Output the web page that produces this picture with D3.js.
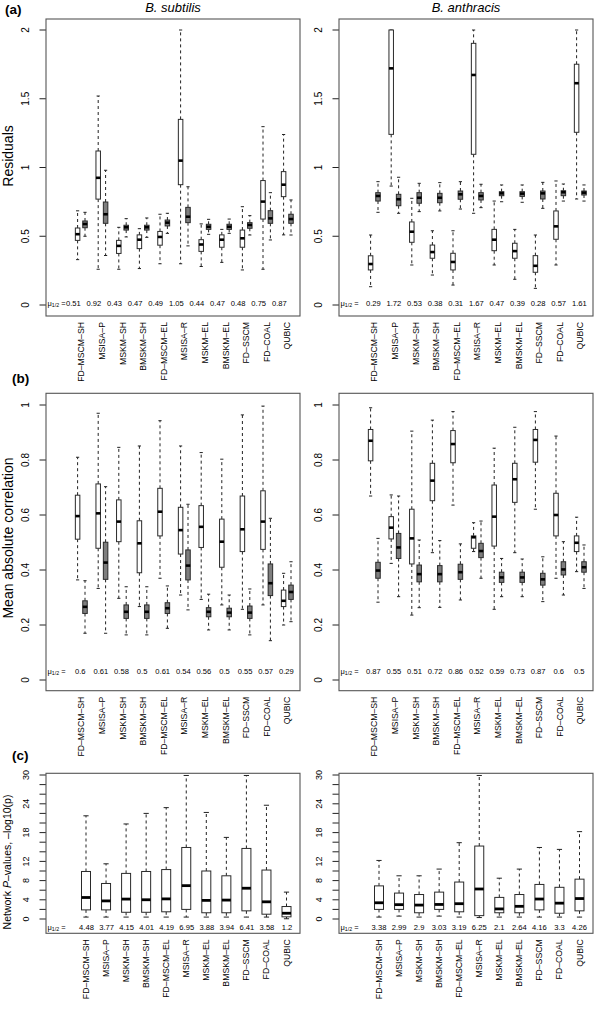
<!DOCTYPE html>
<html><head><meta charset="utf-8">
<script src="https://cdn.jsdelivr.net/npm/d3@7"></script>
<style>body{margin:0;background:#fff} svg{display:block} text{font-family:"Liberation Sans",Arial,Helvetica,sans-serif;fill:#000}</style>
</head><body><svg id="c" width="600" height="1013"></svg>
<script>
// ---------- DATA ----------
const methods = ["FD–MSCM–SH","MSISA–P","MSKM–SH","BMSKM–SH","FD–MSCM–EL","MSISA–R","MSKM–EL","BMSKM–EL","FD–SSCM","FD–COAL","QUBIC"];
const organisms = ["B. subtilis","B. anthracis"];
// each box: [lower whisker, Q1, median, Q3, upper whisker]
// (a) Residuals, white = biclusters, gray = random
const resBsWhite = [[0.33,0.47,0.515,0.56,0.685],[0.26,0.77,0.925,1.12,1.52],[0.26,0.375,0.43,0.47,0.565],[0.265,0.41,0.475,0.51,0.555],[0.30,0.435,0.495,0.535,0.66],[0.30,0.875,1.05,1.35,2.0],[0.28,0.39,0.44,0.475,0.59],[0.31,0.42,0.475,0.51,0.55],[0.255,0.42,0.485,0.545,0.715],[0.26,0.625,0.752,0.905,1.297],[0.51,0.788,0.875,0.97,1.24]];
const resBsGray  = [[0.50,0.562,0.589,0.611,0.674],[0.36,0.594,0.66,0.749,0.98],[0.495,0.545,0.565,0.58,0.628],[0.492,0.545,0.565,0.58,0.633],[0.521,0.575,0.599,0.618,0.667],[0.43,0.599,0.642,0.71,0.86],[0.514,0.55,0.569,0.587,0.623],[0.521,0.55,0.569,0.587,0.625],[0.509,0.558,0.582,0.599,0.65],[0.473,0.594,0.63,0.686,0.817],[0.509,0.594,0.625,0.66,0.764]];
const resBaWhite = [[0.133,0.255,0.298,0.358,0.509],[0.865,1.241,1.721,2.0,2.0],[0.291,0.456,0.533,0.604,0.776],[0.218,0.34,0.385,0.436,0.54],[0.145,0.255,0.313,0.376,0.54],[0.667,1.096,1.673,1.903,2.0],[0.291,0.395,0.475,0.55,0.756],[0.187,0.34,0.392,0.449,0.55],[0.121,0.238,0.285,0.359,0.509],[0.291,0.478,0.572,0.684,0.902],[0.771,1.256,1.613,1.751,2.0]];
const resBaGray  = [[0.674,0.756,0.793,0.817,0.897],[0.667,0.722,0.769,0.805,0.929],[0.679,0.74,0.78,0.817,0.885],[0.684,0.744,0.78,0.812,0.89],[0.698,0.769,0.805,0.829,0.897],[0.708,0.764,0.793,0.817,0.878],[0.751,0.795,0.812,0.824,0.873],[0.747,0.79,0.81,0.824,0.873],[0.703,0.771,0.812,0.829,0.892],[0.756,0.795,0.82,0.831,0.88],[0.756,0.80,0.817,0.829,0.873]];
// (b) Mean absolute correlation
const corBsWhite = [[0.364,0.512,0.596,0.672,0.81],[0.333,0.479,0.606,0.713,0.97],[0.297,0.503,0.576,0.655,0.846],[0.267,0.39,0.497,0.579,0.851],[0.37,0.524,0.612,0.697,0.943],[0.309,0.458,0.545,0.628,0.851],[0.293,0.482,0.557,0.634,0.827],[0.273,0.41,0.503,0.585,0.803],[0.257,0.467,0.548,0.669,0.964],[0.273,0.475,0.576,0.688,0.996],[0.20,0.267,0.288,0.327,0.388]];
const corBsGray  = [[0.17,0.242,0.266,0.288,0.361],[0.17,0.366,0.427,0.501,0.703],[0.164,0.224,0.248,0.273,0.339],[0.164,0.224,0.248,0.273,0.339],[0.188,0.242,0.261,0.281,0.342],[0.255,0.364,0.416,0.473,0.639],[0.182,0.23,0.248,0.263,0.312],[0.182,0.23,0.245,0.261,0.309],[0.164,0.224,0.245,0.269,0.331],[0.143,0.307,0.352,0.422,0.588],[0.212,0.293,0.32,0.345,0.43]];
const corBaWhite = [[0.669,0.797,0.87,0.911,0.99],[0.424,0.513,0.554,0.594,0.673],[0.236,0.422,0.515,0.621,0.905],[0.463,0.652,0.725,0.788,0.945],[0.636,0.79,0.858,0.907,0.976],[0.467,0.479,0.519,0.524,0.572],[0.257,0.487,0.594,0.709,0.843],[0.463,0.646,0.73,0.788,0.919],[0.621,0.792,0.873,0.911,0.976],[0.37,0.524,0.60,0.679,0.887],[0.394,0.467,0.499,0.524,0.592]];
const corBaGray  = [[0.283,0.37,0.398,0.428,0.515],[0.303,0.442,0.482,0.533,0.669],[0.263,0.357,0.385,0.418,0.509],[0.264,0.357,0.385,0.416,0.507],[0.291,0.366,0.392,0.421,0.495],[0.37,0.445,0.469,0.497,0.578],[0.303,0.355,0.373,0.392,0.442],[0.303,0.355,0.373,0.392,0.44],[0.285,0.345,0.366,0.388,0.448],[0.309,0.382,0.402,0.43,0.503],[0.333,0.392,0.41,0.43,0.491]];
// (c) Network P-values, -log10(p)
const netBs = [[0.4,1.9,4.48,9.9,21.5],[0.4,1.9,3.77,7.4,11.5],[0.4,1.4,4.15,9.5,19.8],[0.4,1.4,4.01,9.9,22.0],[0.4,1.5,4.19,10.3,23.2],[0.4,2.0,6.95,14.9,29.9],[0.4,1.3,3.88,10.0,22.2],[0.4,1.3,3.94,9.0,17.0],[0.4,1.7,6.41,14.7,29.9],[0.4,1.0,3.58,10.2,23.7],[0.05,0.45,1.2,2.6,5.6]];
const netBa = [[0.4,2.0,3.38,6.9,12.2],[0.6,2.0,2.99,5.4,9.0],[0.4,1.3,2.9,5.1,9.0],[0.6,2.0,3.03,5.6,10.4],[0.4,1.5,3.19,7.7,15.9],[0.3,0.7,6.25,15.2,29.9],[0.4,1.3,2.1,4.5,8.5],[0.4,1.3,2.64,5.1,10.4],[0.4,1.9,4.16,7.2,14.9],[0.4,1.2,3.3,6.6,14.5],[0.4,1.7,4.26,8.3,18.2]];
// printed medians (mu_1/2)
const medResBs = ["0.51","0.92","0.43","0.47","0.49","1.05","0.44","0.47","0.48","0.75","0.87"];
const medResBa = ["0.29","1.72","0.53","0.38","0.31","1.67","0.47","0.39","0.28","0.57","1.61"];
const medCorBs = ["0.6","0.61","0.58","0.5","0.61","0.54","0.56","0.5","0.55","0.57","0.29"];
const medCorBa = ["0.87","0.55","0.51","0.72","0.86","0.52","0.59","0.73","0.87","0.6","0.5"];
const medNetBs = ["4.48","3.77","4.15","4.01","4.19","6.95","3.88","3.94","6.41","3.58","1.2"];
const medNetBa = ["3.38","2.99","2.9","3.03","3.19","6.25","2.1","2.64","4.16","3.3","4.26"];
// tick values
const ticksRes = [0,0.5,1,1.5,2];
const ticksCor = [0,0.2,0.4,0.6,0.8,1];
const ticksNetMarks = [0,2,4,6,8,10,12,14,16,18,20,22,24,26,28,30];
const ticksNetLabels = [0,4,8,12,18,24,30];

// ---------- LAYOUT ----------
const svg = d3.select("#c");
const cols = [{left:46,right:300},{left:339,right:593}];

const rows = [
  {letter:"(a)", letterX:5, letterY:14, top:19, bottom:316, domain:[0,2], range:[305,30],
   ticks:ticksRes, tickLabels:ticksRes, tickFont:10, ylab:"Residuals", ylabY:156, ylabFont:14,
   paired:true, data:[[resBsWhite,resBsGray],[resBaWhite,resBaGray]], med:[medResBs,medResBa],
   medY:305.5, medOff:[-8,-1], title:true},
  {letter:"(b)", letterX:12, letterY:383, top:393.3, bottom:690.7, domain:[0,1], range:[680,405],
   ticks:ticksCor, tickLabels:ticksCor, tickFont:10, ylab:"Mean absolute correlation", ylabY:538, ylabFont:14,
   paired:true, data:[[corBsWhite,corBsGray],[corBaWhite,corBaGray]], med:[medCorBs,medCorBa],
   medY:673.5, medOff:[-1,-1]},
  {letter:"(c)", letterX:12, letterY:760, top:773.3, bottom:933.3, domain:[0,30], range:[919,775],
   ticks:ticksNetMarks, tickLabels:ticksNetLabels, tickFont:9, ylab:null, ylabY:862, ylabFont:10.5,
   paired:false, data:[netBs,netBa], med:[medNetBs,medNetBa], medY:929.5, medOff:[0.5,0]}
];

function drawBox(g, x, w, d, y, fill, capW, medW) {
  const [lo,q1,med,q3,hi] = d;
  const wl = g.append("g").attr("stroke","#222").attr("stroke-width",1);
  wl.append("line").attr("x1",x).attr("x2",x).attr("y1",y(q3)).attr("y2",y(hi)).attr("stroke-dasharray","3,3");
  wl.append("line").attr("x1",x).attr("x2",x).attr("y1",y(q1)).attr("y2",y(lo)).attr("stroke-dasharray","3,3");
  wl.append("line").attr("x1",x-capW).attr("x2",x+capW).attr("y1",y(hi)).attr("y2",y(hi));
  wl.append("line").attr("x1",x-capW).attr("x2",x+capW).attr("y1",y(lo)).attr("y2",y(lo));
  g.append("rect").attr("x",x-w/2).attr("y",y(q3)).attr("width",w).attr("height",Math.max(0.5,y(q1)-y(q3)))
    .attr("fill",fill).attr("stroke","#2a2a2a").attr("stroke-width",1);
  g.append("line").attr("x1",x-w/2).attr("x2",x+w/2).attr("y1",y(med)).attr("y2",y(med))
    .attr("stroke","#000").attr("stroke-width",medW);
}

rows.forEach(row => {
  const y = d3.scaleLinear().domain(row.domain).range(row.range);
  svg.append("text").attr("x",row.letterX).attr("y",row.letterY).attr("font-size",13.5)
    .attr("font-weight","bold").text(row.letter);

  cols.forEach((col, ci) => {
    const g = svg.append("g");
    if (row.title) {
      g.append("text").attr("x",(col.left+col.right)/2).attr("y",12).attr("text-anchor","middle")
        .attr("font-size",13).attr("font-style","italic").text(organisms[ci]);
    }
    const yTicks = g.append("g");
    row.ticks.forEach(t => {
      yTicks.append("line").attr("x1",col.left-6.5).attr("x2",col.left).attr("y1",y(t)).attr("y2",y(t))
        .attr("stroke","#222").attr("stroke-width",1);
    });
    row.tickLabels.forEach(t => {
      yTicks.append("text").attr("transform",`translate(${col.left-17.5},${y(t)}) rotate(-90)`)
        .attr("text-anchor","middle").attr("font-size",row.tickFont).attr("fill","#111").text(d3.format("~g")(t));
    });

    if (ci === 0) {
      if (row.ylab) {
        svg.append("text").attr("transform",`translate(13,${row.ylabY}) rotate(-90)`)
          .attr("text-anchor","middle").attr("font-size",row.ylabFont).text(row.ylab);
      } else {
        const t = svg.append("text").attr("transform",`translate(11,${row.ylabY}) rotate(-90)`)
          .attr("text-anchor","middle").attr("font-size",row.ylabFont);
        t.append("tspan").text("Network ");
        t.append("tspan").attr("font-style","italic").text("P");
        t.append("tspan").text("–values, –log10(p)");
      }
    }

    let xg;
    if (row.paired) {
      xg = d3.scaleLinear().domain([0,10]).range([col.left+35.3, col.left+241.3]);
      const [wData,gData] = row.data[ci];
      methods.forEach((m,i) => {
        drawBox(g, xg(i)-3.7, 4.5, wData[i], y, "#fff", 1.6, 2.6);
        drawBox(g, xg(i)+3.7, 4.5, gData[i], y, "#7e7e7e", 1.6, 2.6);
      });
    } else {
      xg = d3.scaleLinear().domain([0,10]).range([col.left+40, col.left+240.5]);
      const data = row.data[ci];
      methods.forEach((m,i) => drawBox(g, xg(i), 9, data[i], y, "#fff", 2.6, 2.8));
    }

    // median row
    const mu = g.append("text").attr("x",col.left+1.5).attr("y",row.medY).attr("font-size",7.5).attr("fill","#222");
    mu.append("tspan").text("μ");
    mu.append("tspan").attr("font-size",5.2).attr("dy",1.2).text("1/2");
    mu.append("tspan").attr("dy",-1.2).text(" =");
    row.med[ci].forEach((v,i) => {
      g.append("text").attr("x",xg(i)+row.medOff[ci]).attr("y",row.medY).attr("text-anchor","middle")
        .attr("font-size",7.6).attr("fill","#222").text(v);
    });

    methods.forEach((m,i) => {
      g.append("text").attr("transform",`translate(${xg(i)},${row.bottom+6}) rotate(-90)`)
        .attr("text-anchor","end").attr("dy","0.35em").attr("font-size",8.7).attr("fill","#111").text(m);
    });

    g.append("rect").attr("x",col.left).attr("y",row.top).attr("width",col.right-col.left)
      .attr("height",row.bottom-row.top).attr("fill","none").attr("stroke","#555").attr("stroke-width",1.1);
  });
});
</script></body></html>
